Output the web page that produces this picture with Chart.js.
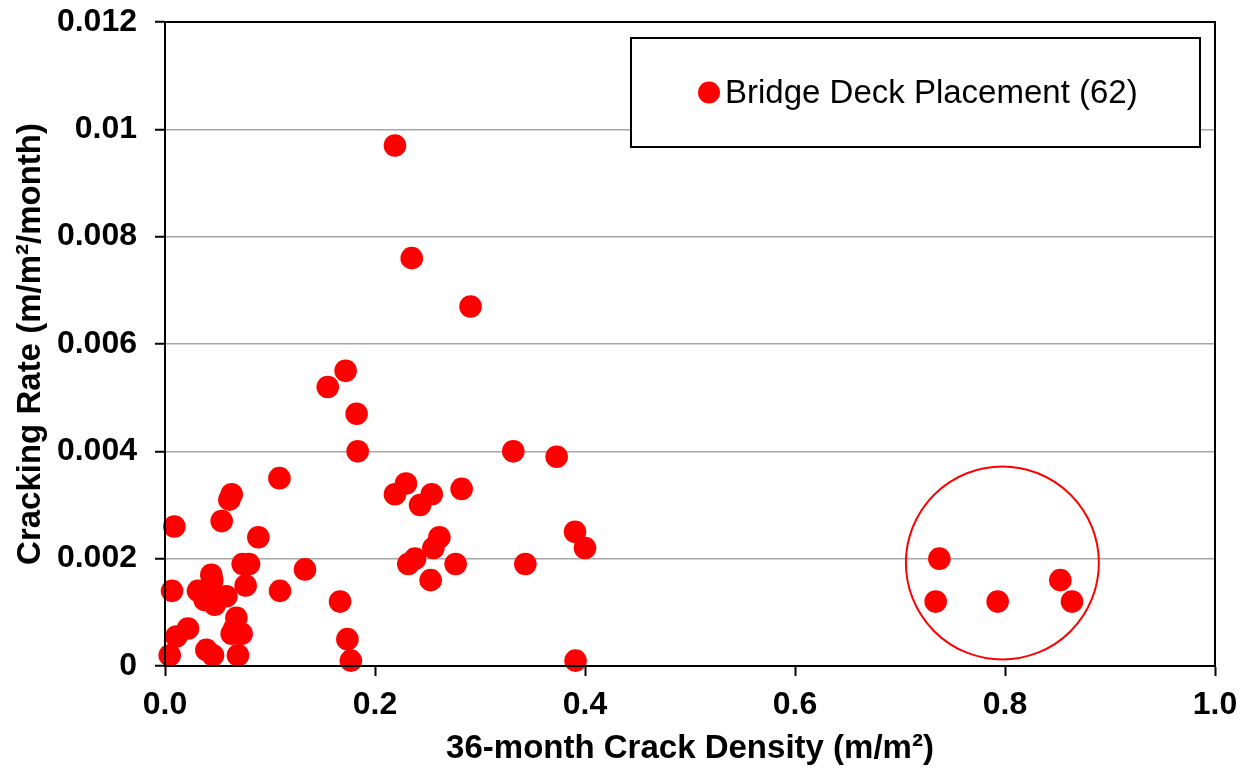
<!DOCTYPE html>
<html>
<head>
<meta charset="utf-8">
<script src="https://cdn.jsdelivr.net/npm/chart.js@4.4.1/dist/chart.umd.min.js"></script>
<style>
  html, body { margin: 0; padding: 0; background: #ffffff; }
  #wrap { width: 1250px; height: 769px; }
</style>
</head>
<body>
<div id="wrap"><canvas id="c" width="1250" height="769"></canvas></div>
<script>
// ---- data ----
const seriesLabel = 'Bridge Deck Placement (62)';
const crackDensity = [
  0.219, 0.235, 0.291,
  0.172, 0.155, 0.1825, 0.1835, 0.3317, 0.373, 0.2295, 0.219, 0.254, 0.2429,
  0.2825, 0.3905, 0.400, 0.2613, 0.2556, 0.2381, 0.2317, 0.2768, 0.3432, 0.253,
  0.1667, 0.1737, 0.177, 0.391,
  0.1333, 0.109, 0.1095,
  0.7375, 0.734, 0.793, 0.8527, 0.8638,
  0.0089, 0.0635, 0.0613, 0.054, 0.0889, 0.074, 0.080, 0.0067, 0.0441, 0.045,
  0.0314, 0.0378, 0.0473, 0.0584, 0.0768, 0.068, 0.0635, 0.073, 0.0219, 0.0108,
  0.0045, 0.0394, 0.0457, 0.0695,
  0.042, 0.066, 0.036
];
const crackingRate = [
  0.0097, 0.0076, 0.0067,
  0.0055, 0.0052, 0.0047, 0.0040, 0.0040, 0.0039, 0.0034, 0.0032, 0.0032, 0.0030,
  0.0033, 0.0025, 0.0022, 0.0024, 0.0022, 0.0020, 0.0019, 0.0019, 0.0019, 0.0016,
  0.0012, 0.0005, 0.0001, 0.0001,
  0.0018, 0.0035, 0.0014,
  0.0020, 0.0012, 0.0012, 0.0016, 0.0012,
  0.0026, 0.0032, 0.0031, 0.0027, 0.0024, 0.0019, 0.0019, 0.0014, 0.0017, 0.0016,
  0.0014, 0.00123, 0.00114, 0.0013, 0.0015, 0.0009, 0.0006, 0.0006, 0.0007, 0.00055,
  0.0002, 0.0003, 0.0002, 0.0002,
  0.0013, 0.0007, 0.0014
];
const xTickLabels = ['0.0', '0.2', '0.4', '0.6', '0.8', '1.0'];
const yTickLabels = ['0', '0.002', '0.004', '0.006', '0.008', '0.01', '0.012'];
// highlighted group (circle annotation) in data units
const highlightCenter = [0.7975, 0.00192];
const highlightRadiusX = 0.0919;

const FONT = '"Liberation Sans", Arial, sans-serif';
const points = crackDensity.map((x, i) => ({ x: x, y: crackingRate[i] }));

const frameAndOverlay = {
  id: 'frameAndOverlay',
  afterDatasetsDraw(chart) {
    const ctx = chart.ctx;
    const a = chart.chartArea;
    const xs = chart.scales.x, ys = chart.scales.y;
    ctx.save();
    // highlight circle
    const cx = xs.getPixelForValue(highlightCenter[0]);
    const cy = ys.getPixelForValue(highlightCenter[1]);
    const r = xs.getPixelForValue(highlightCenter[0] + highlightRadiusX) - cx;
    ctx.beginPath();
    ctx.arc(cx, cy, r, 0, Math.PI * 2);
    ctx.strokeStyle = '#ff0000';
    ctx.lineWidth = 2;
    ctx.stroke();
    // plot frame
    ctx.strokeStyle = '#000000';
    ctx.lineWidth = 2;
    ctx.strokeRect(a.left, a.top, a.right - a.left, a.bottom - a.top);
    // legend box
    const bx = a.left + 466, by = a.top + 16, bw = 569, bh = 109;
    ctx.fillStyle = '#ffffff';
    ctx.fillRect(bx, by, bw, bh);
    ctx.strokeRect(bx, by, bw, bh);
    const my = by + bh / 2;
    ctx.beginPath();
    ctx.arc(bx + 78, my, 11, 0, Math.PI * 2);
    ctx.fillStyle = '#ff0000';
    ctx.fill();
    ctx.fillStyle = '#000000';
    ctx.font = '33px ' + FONT;
    ctx.textBaseline = 'middle';
    ctx.textAlign = 'left';
    ctx.fillText(chart.data.datasets[0].label, bx + 94, my + 1);
    ctx.restore();
  }
};

new Chart(document.getElementById('c'), {
  type: 'scatter',
  data: {
    datasets: [{
      label: seriesLabel,
      data: points,
      backgroundColor: '#ff0000',
      borderWidth: 0,
      pointRadius: 11.3,
      pointHoverRadius: 11.3,
      clip: false
    }]
  },
  options: {
    responsive: false,
    animation: false,
    events: [],
    layout: { padding: { top: 22, right: 35, left: 0, bottom: 0 } },
    plugins: { legend: { display: false }, tooltip: { enabled: false } },
    scales: {
      x: {
        type: 'linear',
        min: 0, max: 1,
        afterFit(s) { s.height = 103; s.paddingLeft = 0; s.paddingRight = 0; },
        ticks: {
          stepSize: 0.2,
          color: '#000',
          padding: 10,
          maxRotation: 0,
          font: { family: FONT, size: 32, weight: 'bold' },
          callback: (v, i) => xTickLabels[i] !== undefined ? xTickLabels[i] : v.toFixed(1)
        },
        grid: { drawOnChartArea: false, drawTicks: true, tickLength: 10, tickColor: '#000', tickWidth: 2 },
        border: { color: '#000', width: 2 },
        title: {
          display: true,
          text: '36-month Crack Density (m/m²)',
          color: '#000',
          font: { family: FONT, size: 33, weight: 'bold' },
          padding: { top: 0, bottom: 0 }
        }
      },
      y: {
        type: 'linear',
        min: 0, max: 0.012,
        afterFit(s) { s.width = 165; s.paddingTop = 0; s.paddingBottom = 0; },
        ticks: {
          stepSize: 0.002,
          color: '#000',
          padding: 18,
          font: { family: FONT, size: 32, weight: 'bold' },
          callback: (v, i) => yTickLabels[i] !== undefined ? yTickLabels[i] : String(v)
        },
        grid: { color: '#a6a6a6', lineWidth: 1.5, drawTicks: true, tickLength: 10, tickColor: '#000', tickWidth: 2 },
        border: { color: '#000', width: 2 },
        title: {
          display: true,
          text: 'Cracking Rate (m/m²/month)',
          color: '#000',
          font: { family: FONT, size: 33, weight: 'bold' },
          padding: { top: 11, bottom: 0 }
        }
      }
    }
  },
  plugins: [frameAndOverlay]
});
</script>
</body>
</html>
